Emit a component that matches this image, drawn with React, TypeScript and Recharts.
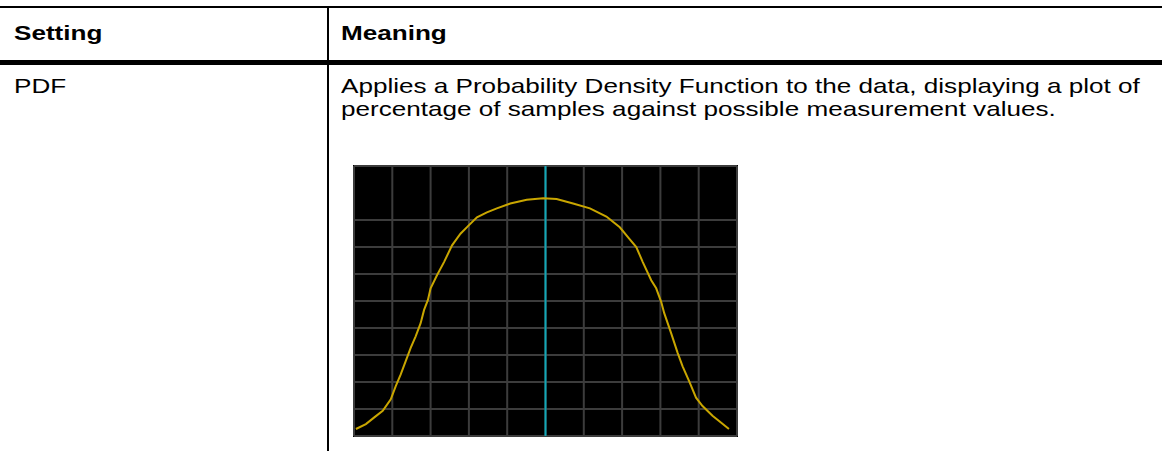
import React from "react";
import { LineChart, Line, XAxis, YAxis, CartesianGrid, ReferenceLine } from "recharts";

// Table text
const headers = ["Setting", "Meaning"];
const settingName = "PDF";
const meaningLines = [
  "Applies a Probability Density Function to the data, displaying a plot of",
  "percentage of samples against possible measurement values.",
];

// PDF trace (x: % of horizontal span, y: % of vertical span)
const pdfX = [0.5, 3.1, 5.3, 7.5, 9.6, 10.9, 12.2, 13.5, 14.8, 16.1, 17.4, 18.3, 19.3, 20.0, 21.7, 23.5, 25.6, 27.8, 29.9, 32.1, 34.7, 37.3, 40.8, 45.1, 49.4, 52.9, 57.2, 61.6, 65.9, 69.4, 71.9, 73.7, 75.4, 77.6, 78.9, 80.2, 81.0, 82.8, 84.5, 85.8, 87.5, 89.3, 91.0, 93.6, 95.8, 97.9];
const pdfY = [2.6, 4.4, 6.9, 9.3, 13.6, 18.5, 22.8, 27.7, 32.6, 36.9, 41.8, 46.7, 50.4, 54.7, 59.6, 64.4, 70.6, 74.9, 77.9, 81.0, 82.8, 84.3, 86.1, 87.5, 88.1, 87.8, 86.1, 84.3, 81.3, 77.3, 73.0, 70.0, 64.4, 57.7, 54.7, 49.7, 45.5, 38.1, 30.8, 25.8, 20.3, 14.2, 11.1, 7.5, 5.0, 2.6];
const gridTicks = [0, 10, 20, 30, 40, 50, 60, 70, 80, 90, 100];
const markerX = 50;

const data = pdfX.map((x, i) => ({ x, y: pdfY[i] }));

const font = '"Liberation Sans", Arial, sans-serif';
const SX = 1.242;

const textStyle = (left: number, top: number, bold: boolean): React.CSSProperties => ({
  position: "absolute",
  left,
  top,
  fontFamily: font,
  fontSize: 21,
  fontWeight: bold ? 700 : 400,
  color: "#000",
  whiteSpace: "nowrap",
  lineHeight: "23px",
  transform: `scaleX(${SX})`,
  transformOrigin: "0 0",
});

export default function App() {
  return (
    <div style={{ position: "absolute", left: 0, top: 0, width: 1162, height: 451, background: "#fff", overflow: "hidden" }}>
      {/* table rules */}
      <div style={{ position: "absolute", left: 0, top: 6, width: 1162, height: 2, background: "#000" }} />
      <div style={{ position: "absolute", left: 0, top: 60, width: 1162, height: 5, background: "#000" }} />
      <div style={{ position: "absolute", left: 327, top: 6, width: 2, height: 445, background: "#000" }} />

      <div style={textStyle(14, 21, true)}>{headers[0]}</div>
      <div style={textStyle(341, 21, true)}>{headers[1]}</div>
      <div style={textStyle(14, 74, false)}>{settingName}</div>
      <div style={textStyle(341, 74, false)}>{meaningLines[0]}</div>
      <div style={textStyle(341, 97, false)}>{meaningLines[1]}</div>

      <div style={{ position: "absolute", left: 353, top: 165, width: 385, height: 272, background: "#000" }} />
      <div style={{ position: "absolute", left: 352, top: 164 }}>
        <LineChart width={388} height={274} data={data} margin={{ top: 2, left: 2, right: 3, bottom: 2 }}>
          <XAxis type="number" dataKey="x" domain={[0, 100]} ticks={gridTicks} hide />
          <YAxis type="number" domain={[0, 100]} ticks={gridTicks} hide />
          <CartesianGrid stroke="#3c3c3c" strokeWidth={2} strokeDasharray="0" />
          <ReferenceLine x={markerX} stroke="#10a8b8" strokeWidth={2} ifOverflow="extendDomain" />
          <Line type="linear" dataKey="y" stroke="#c9a600" strokeWidth={2} dot={false} isAnimationActive={false} />
        </LineChart>
      </div>
    </div>
  );
}
